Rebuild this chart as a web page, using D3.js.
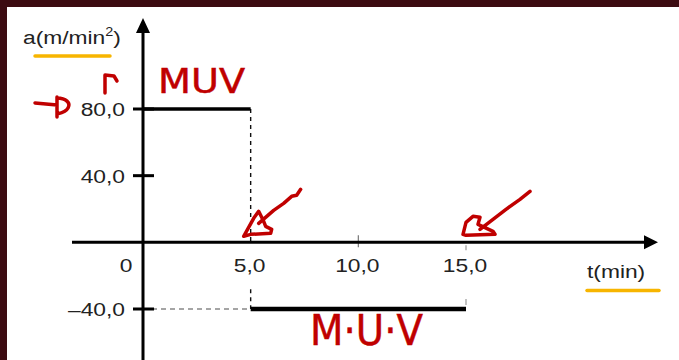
<!DOCTYPE html>
<html>
<head>
<meta charset="utf-8">
<script src="https://cdn.jsdelivr.net/npm/d3@7"></script>
<style>
  body { margin: 0; background: #3c0b11; }
  svg { display: block; }
</style>
</head>
<body>
<svg id="chart" width="679" height="360"></svg>
<script>
// time breakpoints (min) and acceleration in each interval (m/min^2)
var times = [0, 5, 15];
var accel = [80, -40];

var xTicks = [0, 5, 10, 15];
var xTickLabels = ["0", "5,0", "10,0", "15,0"];
var yTicks = [80, 40, -40];
var yTickLabels = ["80,0", "40,0", "\u201340,0"];

var width = 679, height = 360;
var svg = d3.select("#chart");

// white page inside the dark frame
svg.append("rect")
    .attr("x", 7).attr("y", 7)
    .attr("width", width - 7).attr("height", height - 7)
    .attr("fill", "#fff");

var x = d3.scaleLinear().domain([0, 15]).range([143, 466]);
var y = d3.scaleLinear().domain([-40, 80]).range([309, 109]);

var font = "'Liberation Sans', Arial, sans-serif";
var ink = "#222";
var red = "#c00000";

// stretched text like the scanned figure
function label(txt, px, py, anchor) {
    return svg.append("text")
        .attr("transform", "translate(" + px + "," + py + ") scale(1.2,1)")
        .attr("text-anchor", anchor)
        .style("font-family", font)
        .style("font-size", "19px")
        .attr("fill", ink)
        .text(txt);
}

// dashed guides (vertical one is broken around the 5,0 label)
[[y(80), y(0)], [y(0) + 47, y(-40)]].forEach(function (s) {
    svg.append("line")
        .attr("x1", x(5)).attr("x2", x(5))
        .attr("y1", s[0]).attr("y2", s[1])
        .attr("stroke", "#111").attr("stroke-width", 1.4)
        .attr("stroke-dasharray", "4,4");
});
svg.append("line")
    .attr("x1", x(0)).attr("x2", x(5))
    .attr("y1", y(-40)).attr("y2", y(-40))
    .attr("stroke", "#888").attr("stroke-width", 1.5)
    .attr("stroke-dasharray", "5,4");

// little gray ticks at 10 and 15
svg.append("line")
    .attr("x1", x(10)).attr("x2", x(10))
    .attr("y1", y(0) - 7).attr("y2", y(0) + 5)
    .attr("stroke", "#777").attr("stroke-width", 1.2);
[[y(0) + 3, y(0) + 8], [y(-40) - 10, y(-40) - 4]].forEach(function (s) {
    svg.append("line")
        .attr("x1", x(15)).attr("x2", x(15))
        .attr("y1", s[0]).attr("y2", s[1])
        .attr("stroke", "#999").attr("stroke-width", 1.2);
});

// axes
svg.append("line")
    .attr("x1", 72).attr("x2", 648)
    .attr("y1", y(0)).attr("y2", y(0))
    .attr("stroke", "#000").attr("stroke-width", 3);
svg.append("path")
    .attr("d", "M658," + y(0) + " L644," + (y(0) - 7) + " L644," + (y(0) + 7) + " Z")
    .attr("fill", "#000");
svg.append("line")
    .attr("x1", x(0)).attr("x2", x(0))
    .attr("y1", 28).attr("y2", height)
    .attr("stroke", "#000").attr("stroke-width", 3);
svg.append("path")
    .attr("d", "M" + x(0) + ",18 L" + (x(0) - 7) + ",33 L" + (x(0) + 7) + ",33 Z")
    .attr("fill", "#000");

// y ticks
svg.selectAll(".ytick")
    .data(yTicks)
    .enter()
    .append("line")
    .attr("class", "ytick")
    .attr("x1", x(0) - 10).attr("x2", x(0) + 11)
    .attr("y1", d => y(d)).attr("y2", d => y(d))
    .attr("stroke", "#000").attr("stroke-width", 3);

yTicks.forEach(function (d, i) {
    label(yTickLabels[i], 125, y(d) + 7, "end");
});
xTicks.forEach(function (d, i) {
    label(xTickLabels[i], d === 0 ? x(0) - 17 : x(d) - 1, 272, "middle");
});

// acceleration steps
accel.forEach(function (a, i) {
    svg.append("line")
        .attr("x1", x(times[i])).attr("x2", x(times[i + 1]))
        .attr("y1", y(a)).attr("y2", y(a))
        .attr("stroke", "#000").attr("stroke-width", i === 0 ? 3.5 : 4.5);
});

// axis titles
var at = label("a(m/min", 23, 44, "start");
at.append("tspan").attr("dy", -8).style("font-size", "12px").text("2");
at.append("tspan").attr("dy", 8).text(")");
label("t(min)", 587, 278, "start");

// yellow highlights
[[35, 110, 56], [587, 659, 290.5]].forEach(function (u) {
    svg.append("line")
        .attr("x1", u[0]).attr("x2", u[1])
        .attr("y1", u[2]).attr("y2", u[2])
        .attr("stroke", "#f7b500").attr("stroke-width", 3.5)
        .attr("stroke-linecap", "round");
});

// red handwriting
function pen(d, tx, ty) {
    svg.append("path")
        .attr("d", d)
        .attr("transform", "translate(" + tx + "," + ty + ")")
        .attr("fill", "none")
        .attr("stroke", red).attr("stroke-width", 3.5)
        .attr("stroke-linecap", "round").attr("stroke-linejoin", "round");
}

// arrow at t = 5
pen("M0,0 L10,-18 L15,-25 L20,-15 L22,-10 L28,-7 L27,-3 L7,-2 Z M15,-13 L30,-26 L40,-33 L48,-40 L53,-41 L57,-47",
    x(5) - 7, y(0) - 6);
// arrow at t = 15
pen("M0,0 L3,-12 L10,-18 L17,-17 L15,-10 L30,-3 L32,0 L3,1 Z M17,-5 L30,-15 L43,-25 L57,-35 L67,-43",
    x(15) - 3, y(0) - 8);
// marks by 80,0
pen("M35,103 L57,105 M57,97 L57,117 M57,98 C66,98 71,103 68,108 C66,112 61,113 57,114", 0, 0);
pen("M105,93 L105,75 L114,76 L117,81", 0, 0);

svg.append("text")
    .attr("x", 158).attr("y", 93)
    .attr("textLength", 87).attr("lengthAdjust", "spacingAndGlyphs")
    .style("font-family", "'DejaVu Sans', sans-serif")
    .style("font-size", "34px")
    .attr("fill", red).attr("stroke", red).attr("stroke-width", 0.5)
    .text("MUV");

svg.append("text")
    .attr("x", 310).attr("y", 345)
    .attr("textLength", 113).attr("lengthAdjust", "spacingAndGlyphs")
    .style("font-family", "'DejaVu Sans', sans-serif")
    .style("font-size", "42px")
    .attr("fill", red).attr("stroke", red).attr("stroke-width", 0.5)
    .text("M\u00b7U\u00b7V");
</script>
</body>
</html>
